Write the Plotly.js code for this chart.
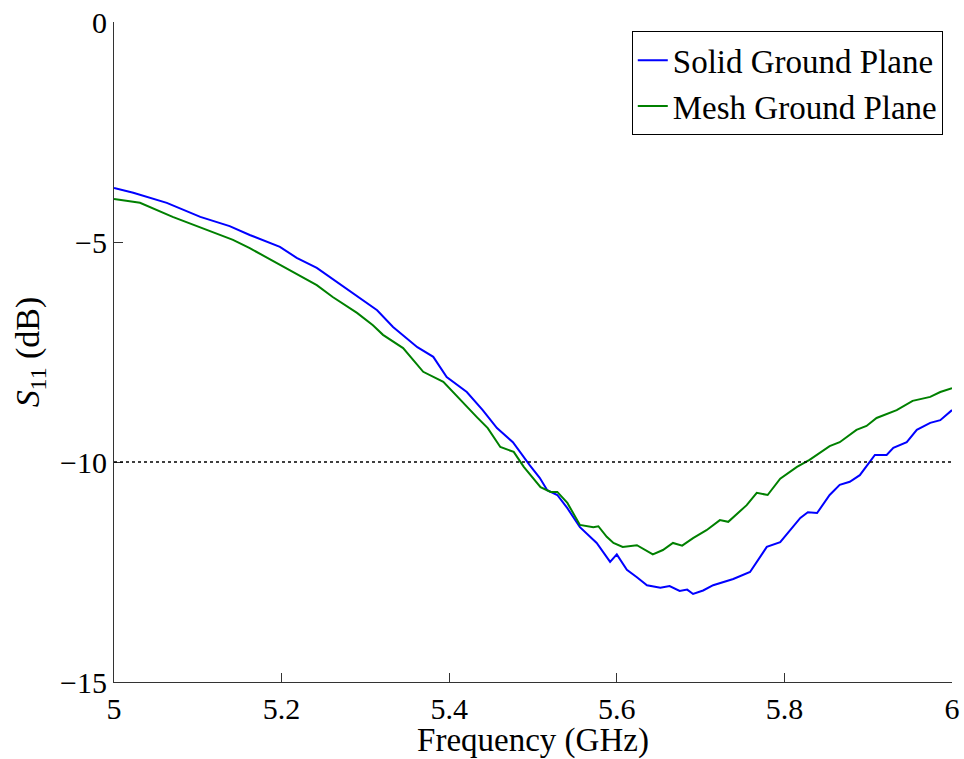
<!DOCTYPE html>
<html>
<head>
<meta charset="utf-8">
<script src="https://cdn.plot.ly/plotly-3.0.1.min.js"></script>
</head>
<body style="margin:0;background:#fff">
<div id="chart" style="width:964px;height:759px"></div>
<script>
const solidFreq = [5.000,5.023,5.063,5.103,5.138,5.162,5.198,5.218,5.242,5.266,5.294,5.314,5.333,5.362,5.381,5.397,5.421,5.440,5.457,5.476,5.496,5.508,5.517,5.529,5.541,5.556,5.576,5.592,5.600,5.612,5.624,5.636,5.652,5.663,5.675,5.684,5.691,5.703,5.715,5.739,5.759,5.779,5.795,5.819,5.828,5.839,5.854,5.866,5.878,5.890,5.908,5.922,5.930,5.946,5.958,5.974,5.986,6.000];
const solidS11 = [-3.77,-3.88,-4.11,-4.43,-4.64,-4.84,-5.11,-5.36,-5.59,-5.91,-6.27,-6.55,-6.93,-7.39,-7.61,-8.07,-8.41,-8.82,-9.23,-9.55,-10.07,-10.36,-10.64,-10.75,-11.05,-11.48,-11.84,-12.27,-12.10,-12.45,-12.62,-12.80,-12.86,-12.82,-12.93,-12.90,-13.00,-12.92,-12.80,-12.66,-12.50,-11.93,-11.82,-11.27,-11.14,-11.16,-10.75,-10.52,-10.45,-10.30,-9.84,-9.84,-9.68,-9.55,-9.27,-9.11,-9.05,-8.82];

const meshFreq = [5.000,5.031,5.070,5.103,5.142,5.162,5.183,5.202,5.226,5.242,5.261,5.290,5.309,5.321,5.345,5.369,5.393,5.413,5.433,5.446,5.461,5.477,5.489,5.509,5.521,5.529,5.541,5.556,5.572,5.578,5.588,5.596,5.607,5.624,5.643,5.655,5.667,5.678,5.691,5.707,5.723,5.733,5.755,5.767,5.780,5.795,5.815,5.830,5.854,5.866,5.886,5.898,5.910,5.934,5.953,5.974,5.986,6.000];
const meshS11 = [-4.02,-4.11,-4.43,-4.66,-4.95,-5.14,-5.36,-5.57,-5.82,-5.98,-6.25,-6.61,-6.89,-7.11,-7.41,-7.95,-8.18,-8.59,-8.98,-9.23,-9.66,-9.77,-10.11,-10.57,-10.68,-10.68,-10.93,-11.43,-11.48,-11.46,-11.70,-11.84,-11.93,-11.89,-12.10,-12.00,-11.84,-11.90,-11.73,-11.55,-11.32,-11.36,-10.98,-10.70,-10.75,-10.38,-10.11,-9.95,-9.64,-9.55,-9.27,-9.18,-9.00,-8.82,-8.61,-8.52,-8.41,-8.32];

const seriesNames = ["Solid Ground Plane", "Mesh Ground Plane"];
const xTicks = [5, 5.2, 5.4, 5.6, 5.8, 6];
const xTickText = ["5", "5.2", "5.4", "5.6", "5.8", "6"];
const yTicks = [0, -5, -10, -15];
const yTickText = ["0", "\u22125", "\u221210", "\u221215"];
const threshold = -10;

const SERIF = "Liberation Serif";

const traces = [
  {x: solidFreq, y: solidS11, name: seriesNames[0], type: "scatter", mode: "lines", line: {color: "#0000ff", width: 2}},
  {x: meshFreq, y: meshS11, name: seriesNames[1], type: "scatter", mode: "lines", line: {color: "#008000", width: 2}}
];

const layout = {
  width: 964, height: 759,
  margin: {l: 114, r: 12, t: 22, b: 77},
  paper_bgcolor: "#fff", plot_bgcolor: "#fff",
  font: {family: SERIF, size: 30, color: "#000"},
  showlegend: true,
  legend: {x: 0.989, y: 0.986, xanchor: "right", yanchor: "top", bgcolor: "#fff", bordercolor: "#000", borderwidth: 1, font: {family: SERIF, size: 33, color: "#000"}, tracegroupgap: 0, itemwidth: 30},
  xaxis: {
    range: [5, 6], tickvals: xTicks, ticktext: xTickText,
    showline: true, linecolor: "#333", linewidth: 1, mirror: false,
    ticks: "inside", ticklen: 9, tickcolor: "#333", showgrid: false, zeroline: false,
    tickfont: {family: SERIF, size: 30, color: "#000"}, automargin: false,
    title: {text: "Frequency (GHz)", font: {family: SERIF, size: 33, color: "#000"}, standoff: 3}
  },
  yaxis: {
    range: [-15, 0], tickvals: yTicks, ticktext: yTickText,
    showline: true, linecolor: "#333", linewidth: 1, mirror: false,
    ticks: "inside", ticklen: 9, tickcolor: "#333", showgrid: false, zeroline: false,
    tickfont: {family: SERIF, size: 30, color: "#000"}, automargin: false,
    title: {text: "<i>S</i><sub>11</sub> (dB)", font: {family: SERIF, size: 34, color: "#000"}, standoff: 10}
  },
  shapes: [{type: "line", xref: "paper", x0: 0, x1: 1, yref: "y", y0: threshold, y1: threshold, line: {color: "#000", width: 1.5, dash: "dot"}}]
};

Plotly.newPlot("chart", traces, layout, {displayModeBar: false});
</script>
</body>
</html>
